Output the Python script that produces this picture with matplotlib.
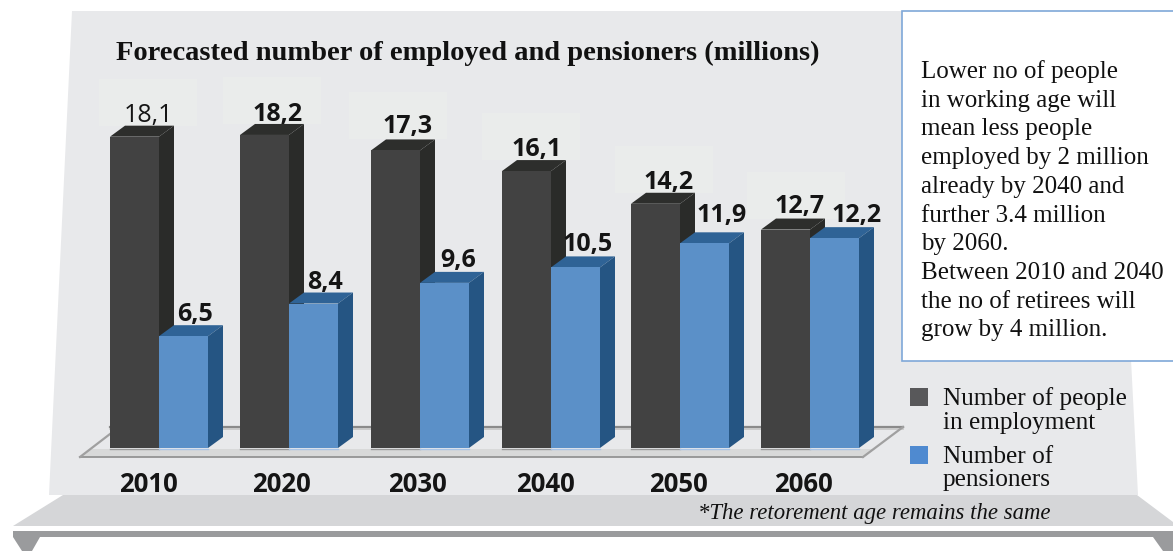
import matplotlib.pyplot as plt
from matplotlib.patches import Polygon, Rectangle

years = ["2010", "2020", "2030", "2040", "2050", "2060"]
employed = [18.1, 18.2, 17.3, 16.1, 14.2, 12.7]
pensioners = [6.5, 8.4, 9.6, 10.5, 11.9, 12.2]

title = "Forecasted number of employed and pensioners (millions)"
note_lines = [
    "Lower no of people",
    "in working age will",
    "mean less people",
    "employed by 2 million",
    "already by 2040 and",
    "further 3.4 million",
    "by 2060.",
    "Between 2010 and 2040",
    "the no of retirees will",
    "grow by 4 million.",
]
footnote = "*The retorement age remains the same"

W, H = 1173, 551
PX = 17.2      # pixels per million
BASE = 448     # pixel row of the zero line
LEFT = [110, 240, 371, 502, 631, 761]
BAR_W = 49
DX, DY = 15, 11
YEAR_X = [148, 281, 417, 545, 678, 803]
PANEL_X = [99, 223, 349, 482, 615, 747]
DARK_OFFSET = [38, 38, 37, 35, 38, 38]
BLUE_OFFSET = [36, 36, 38, 37, 42, 47]
DARK_DROP = [2, 3, 0, 2, 2, 0]   # label nudges in pixels
BLUE_DROP = [2, 2, 1, 1, -4, 1]
SERIF = "Liberation Serif"
SANS = "Open Sans"
INK = "#111111"

fig = plt.figure(figsize=(W / 100, H / 100), dpi=100)

# decoration in pixel coordinates
bg = fig.add_axes([0, 0, 1, 1])
bg.set_xlim(0, W)
bg.set_ylim(H, 0)
bg.axis("off")

bg.add_patch(Polygon([(72, 11), (1113, 11), (1138, 495), (49, 495)], color="#e8e9eb", lw=0))
bg.add_patch(Polygon([(63, 495), (1137, 495), (1173, 522), (1173, 526), (13, 526)], color="#d5d6d8", lw=0))
bg.add_patch(Rectangle((13, 531), W - 13, 6, color="#9a9b9d", lw=0))
bg.add_patch(Polygon([(13, 537), (40, 537), (32, 551), (22, 551)], color="#9a9b9d", lw=0))
bg.add_patch(Polygon([(1153, 537), (1173, 537), (1173, 551), (1163, 551)], color="#9a9b9d", lw=0))

# floor of the chart
bg.plot([110, 903], [426.5, 426.5], color="#8a8a8a", lw=1.6)
bg.plot([110, 903], [428.5, 428.5], color="#c4c4c4", lw=1.2)
bg.add_patch(Polygon([(92, 449), (875, 449), (863, 456.5), (80, 456.5)], color="#d8d9d9", lw=0))
bg.plot([80, 863], [457, 457], color="#8c8c8c", lw=1.2)
bg.plot([80, 110], [457, 434], color="#a0a0a0", lw=1.6)
bg.plot([863, 903], [457, 427], color="#a0a0a0", lw=1.6)

bg.text(116, 53, title, family=SERIF, weight="bold", fontsize=20.5, color=INK, va="center")

# text box
bg.add_patch(Rectangle((902, 11), 272, 350, facecolor="white", edgecolor="#7fa8d8", lw=1.2))
for i, line in enumerate(note_lines):
    bg.text(921, 72 + i * 28.7, line, family=SERIF, fontsize=18, color=INK, va="center")

# legend
bg.add_patch(Rectangle((910, 388), 18, 18, color="#58585a", lw=0))
bg.add_patch(Rectangle((910, 446), 18, 18, color="#4f8ad0", lw=0))
bg.text(943, 399, "Number of people", family=SERIF, fontsize=18.2, color=INK, va="center")
bg.text(943, 423, "in employment", family=SERIF, fontsize=18.2, color=INK, va="center")
bg.text(943, 457, "Number of", family=SERIF, fontsize=18.2, color=INK, va="center")
bg.text(943, 480, "pensioners", family=SERIF, fontsize=18.2, color=INK, va="center")

bg.text(698, 513, footnote, family=SERIF, style="italic", fontsize=16.4, color=INK, va="center")

for x, year in zip(YEAR_X, years):
    bg.text(x, 485, year, family=SANS, weight="bold", fontsize=18.5, color="#151515", ha="center", va="center")

# bars, y axis in millions
ax = fig.add_axes([0, 0, 1, 1], facecolor="none")
ax.set_xlim(0, W)
ax.set_ylim(-(H - BASE) / PX, BASE / PX)
ax.axis("off")
dy = DY / PX


def bar3d(x, value, front, side, top):
    ax.add_patch(Polygon([(x, value), (x + DX, value + dy), (x + BAR_W + DX, value + dy), (x + BAR_W, value)],
                         color=top, lw=0))
    ax.add_patch(Polygon([(x + BAR_W, 0), (x + BAR_W + DX, dy), (x + BAR_W + DX, value + dy), (x + BAR_W, value)],
                         color=side, lw=0))
    ax.bar(x, value, width=BAR_W, align="edge", color=front, lw=0)


for i, x in enumerate(LEFT):
    # pale panel behind the upper label
    ax.add_patch(Rectangle((PANEL_X[i], employed[i] + 11 / PX), 98, 47 / PX, color="#eaeceb", lw=0))
for i, x in enumerate(LEFT):
    bar3d(x, employed[i], "#424242", "#2a2b29", "#2d2e2c")
    bar3d(x + BAR_W, pensioners[i], "#5b90c8", "#255583", "#2f6396")
    ax.plot([x, x + BAR_W], [-1 / PX, -1 / PX], color="#9a9a9a", lw=1)
    ax.plot([x + BAR_W, x + 2 * BAR_W], [-1 / PX, -1 / PX], color="#a9c4e6", lw=1)
for i, x in enumerate(LEFT):
    e, p = employed[i], pensioners[i]
    weight = "normal" if i == 0 else "bold"
    ax.text(x + DARK_OFFSET[i], e + dy - DARK_DROP[i] / PX, f"{e:.1f}".replace(".", ","), family=SANS, weight=weight,
            fontsize=18, color="#151515", ha="center", va="bottom")
    ax.text(x + BAR_W + BLUE_OFFSET[i], p + dy - BLUE_DROP[i] / PX, f"{p:.1f}".replace(".", ","), family=SANS,
            weight="bold", fontsize=18, color="#151515", ha="center", va="bottom")

fig.savefig("out.png", dpi=100)
